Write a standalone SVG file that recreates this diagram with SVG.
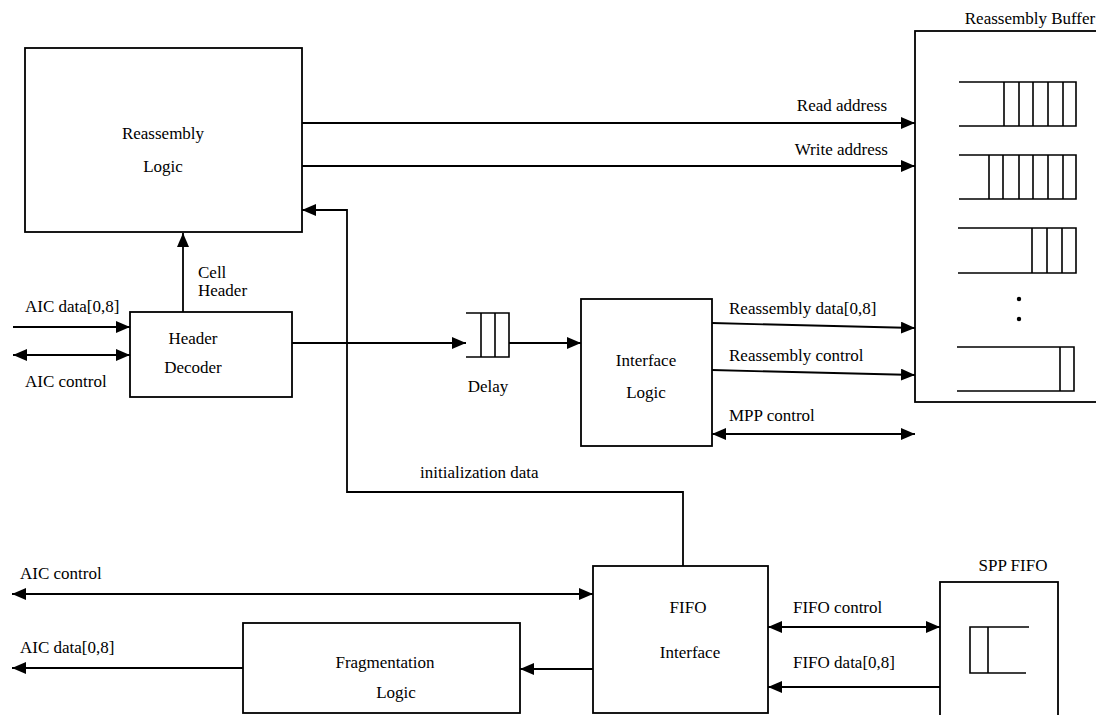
<svg xmlns="http://www.w3.org/2000/svg" width="1096" height="715" viewBox="0 0 1096 715" font-family="'Liberation Serif', 'Times New Roman', serif">
<defs>
<marker id="ah" markerUnits="userSpaceOnUse" markerWidth="15" markerHeight="12" refX="14" refY="6" orient="auto-start-reverse">
<path d="M0,0 L14,6 L0,12 Z" fill="#000"/>
</marker>
<style>
.box{fill:#fff;stroke:#000;stroke-width:1.8}
.ln{fill:none;stroke:#000;stroke-width:1.8}
.q{fill:none;stroke:#000;stroke-width:1.6}
text{font-family:'Liberation Serif','Times New Roman',serif;font-size:17px;fill:#000}
.c{text-anchor:middle}
.e{text-anchor:end}
</style>
</defs>
<rect x="0" y="0" width="1096" height="715" fill="#fff"/>

<g id="connectors">
<line class="ln" x1="302" y1="123" x2="915" y2="123" marker-end="url(#ah)"/>
<line class="ln" x1="302" y1="166" x2="915" y2="166" marker-end="url(#ah)"/>
<line class="ln" x1="183" y1="312" x2="183" y2="233" marker-end="url(#ah)"/>
<line class="ln" x1="13" y1="327" x2="130" y2="327" marker-end="url(#ah)"/>
<line class="ln" x1="13" y1="355" x2="130" y2="355" marker-start="url(#ah)" marker-end="url(#ah)"/>
<line class="ln" x1="292" y1="343" x2="466" y2="343" marker-end="url(#ah)"/>
<line class="ln" x1="509" y1="343" x2="581" y2="343" marker-end="url(#ah)"/>
<line class="ln" x1="712" y1="323" x2="915" y2="328" marker-end="url(#ah)"/>
<line class="ln" x1="712" y1="370" x2="915" y2="375" marker-end="url(#ah)"/>
<line class="ln" x1="712" y1="434" x2="915" y2="434" marker-start="url(#ah)" marker-end="url(#ah)"/>
<polyline class="ln" points="683,566 683,492 347,492 347,210 302,210" marker-end="url(#ah)"/>
<line class="ln" x1="12" y1="594" x2="593" y2="594" marker-start="url(#ah)" marker-end="url(#ah)"/>
<line class="ln" x1="593" y1="669" x2="520" y2="669" marker-end="url(#ah)"/>
<line class="ln" x1="243" y1="668" x2="12" y2="668" marker-end="url(#ah)"/>
<line class="ln" x1="768" y1="627" x2="940" y2="627" marker-start="url(#ah)" marker-end="url(#ah)"/>
<line class="ln" x1="940" y1="687" x2="768" y2="687" marker-end="url(#ah)"/>
<text class="e" x="887" y="111">Read address</text>
<text class="e" x="888" y="155">Write address</text>
<text x="198" y="278">Cell</text>
<text x="198" y="296">Header</text>
<text x="25" y="312">AIC data[0,8]</text>
<text x="25" y="387">AIC control</text>
<text x="729" y="314">Reassembly data[0,8]</text>
<text x="729" y="361">Reassembly control</text>
<text x="729" y="421">MPP control</text>
<text x="420" y="478">initialization data</text>
<text x="20" y="579">AIC control</text>
<text x="20" y="653">AIC data[0,8]</text>
<text x="793" y="613">FIFO control</text>
<text x="793" y="668">FIFO data[0,8]</text>
</g>

<g id="reassembly-logic">
<rect class="box" x="25" y="48" width="277" height="184"/>
<text class="c" x="163" y="139">Reassembly</text>
<text class="c" x="163" y="172">Logic</text>
</g>

<g id="header-decoder">
<rect class="box" x="130" y="312" width="162" height="85"/>
<text class="c" x="193" y="344">Header</text>
<text class="c" x="193" y="373">Decoder</text>
</g>

<g id="delay">
<path class="q" d="M466,313 H509 V357 H466 M481,313 V357 M495,313 V357"/>
<text class="c" x="488" y="392">Delay</text>
</g>

<g id="interface-logic">
<rect class="box" x="581" y="299" width="131" height="147"/>
<text class="c" x="646" y="366">Interface</text>
<text class="c" x="646" y="398">Logic</text>
</g>

<g id="reassembly-buffer">
<rect class="box" x="915" y="31" width="200" height="371"/>
<text class="c" x="1030" y="24">Reassembly Buffer</text>
<path class="q" d="M959,82 H1076 V126 H959 M1004,82 V126 M1019,82 V126 M1033,82 V126 M1048,82 V126 M1063,82 V126"/>
<path class="q" d="M959,155 H1076 V199 H959 M989,155 V199 M1003,155 V199 M1019,155 V199 M1033,155 V199 M1048,155 V199 M1063,155 V199"/>
<path class="q" d="M958,228 H1076 V273 H958 M1032,228 V273 M1047,228 V273 M1062,228 V273"/>
<circle cx="1019" cy="299" r="2.2" fill="#000"/>
<circle cx="1019" cy="319" r="2.2" fill="#000"/>
<path class="q" d="M957,347 H1074 V391 H957 M1060,347 V391"/>
</g>

<g id="fragmentation-logic">
<rect class="box" x="243" y="623" width="277" height="90"/>
<text class="c" x="385" y="668">Fragmentation</text>
<text class="c" x="396" y="698">Logic</text>
</g>

<g id="fifo-interface">
<rect class="box" x="593" y="566" width="175" height="147"/>
<text class="c" x="688" y="613">FIFO</text>
<text class="c" x="690" y="658">Interface</text>
</g>

<g id="spp-fifo">
<rect class="box" x="940" y="582" width="118" height="145"/>
<text class="c" x="1013" y="571">SPP FIFO</text>
<path class="q" d="M1029,627 H970 V673 H1026 M988,627 V673"/>
</g>
</svg>
